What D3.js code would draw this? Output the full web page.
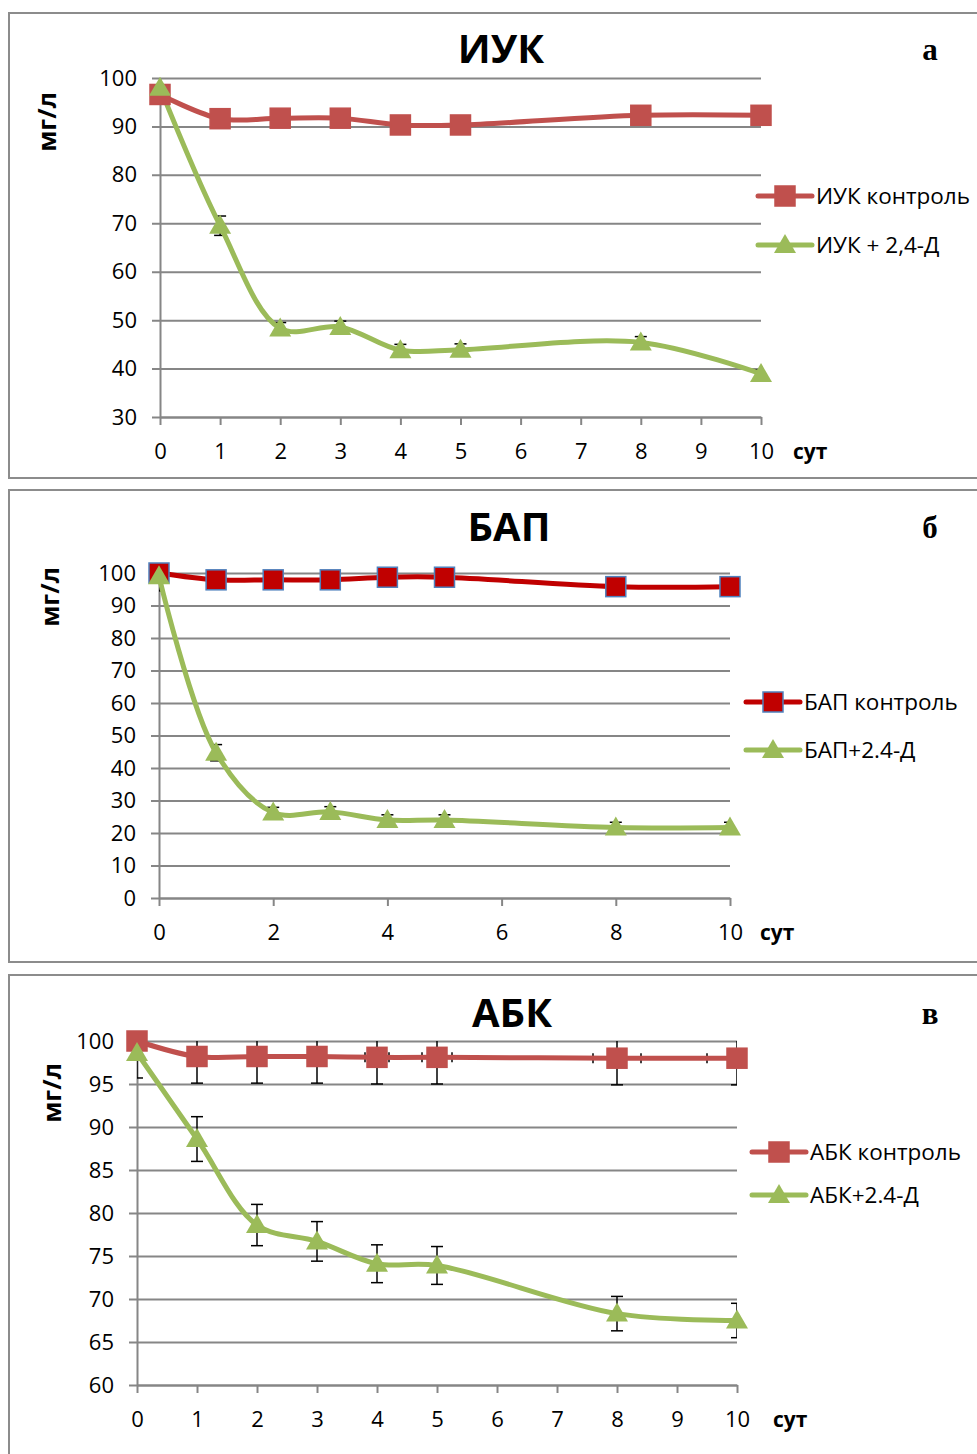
<!DOCTYPE html>
<html>
<head>
<meta charset="utf-8">
<script src="https://cdn.jsdelivr.net/npm/d3@7"></script>
<style>
  body { margin: 0; background: #fff; }
  svg { display: block; }
</style>
</head>
<body>
<svg id="chart"></svg>
<script>
// days
const days = [0, 1, 2, 3, 4, 5, 8, 10];

// ИУК
const iukControl = [96.6, 91.6, 91.7, 91.7, 90.3, 90.3, 92.3, 92.3];
const iukTreated = [98, 69.5, 48.3, 48.6, 43.8, 43.9, 45.4, 38.9];
const iukTreatedErr = [0, 2, 1.2, 1.2, 1.2, 1.2, 1.2, 0.8];

// БАП
const bapControl = [100, 97.9, 97.9, 97.9, 98.7, 98.7, 95.8, 95.8];
const bapTreated = [99, 44.7, 26.3, 26.5, 24, 24, 21.7, 21.7];
const bapTreatedErr = [4.5, 2.5, 1.6, 1.6, 1.6, 1.6, 1.6, 1.6];

// АБК
const abkControl = [100, 98.2, 98.2, 98.2, 98.1, 98.1, 98, 98];
const abkControlErr = [0, 3.1, 3.1, 3.1, 3.1, 3.1, 3.1, 3.1];
const abkControlErrX = days.map(d => d * 0.05); // 5% horizontal bars
const abkTreated = [98.6, 88.6, 78.6, 76.7, 74.1, 73.9, 68.3, 67.5];
const abkTreatedErr = [2.9, 2.6, 2.4, 2.3, 2.2, 2.2, 2, 2];

const W = 977, H = 1454;
const svg = d3.select("#chart").attr("width", W).attr("height", H);

const green = "#9BBB59";
const font = "'Open Sans', 'DejaVu Sans', sans-serif";

const panels = [
  {
    title: "ИУК", letter: "а", top: 13, bottom: 478,
    left: 160, right: 761, yTop: 78, yBottom: 417,
    yDomain: [30, 100], yStep: 10, xTicks: d3.range(0, 11, 1),
    titleX: 501, titleY: 63, letterY: 60, ylabY: 122, ylabX: 47,
    sutX: 793,
    legX: 758, legY: [196, 245],
    series: [
      { name: "ИУК контроль", values: iukControl, color: "#C0504D", marker: "square", fill: "#C0504D", stroke: "#C0504D" },
      { name: "ИУК + 2,4-Д", values: iukTreated, err: iukTreatedErr, color: green, marker: "triangle" }
    ]
  },
  {
    title: "БАП", letter: "б", top: 490, bottom: 962,
    left: 159, right: 730, yTop: 573, yBottom: 898,
    yDomain: [0, 100], yStep: 10, xTicks: d3.range(0, 11, 2),
    titleX: 509, titleY: 541, letterY: 538, ylabY: 597, ylabX: 50,
    sutX: 760,
    legX: 746, legY: [702, 750],
    series: [
      { name: "БАП контроль", values: bapControl, color: "#C00000", marker: "square", fill: "#C00000", stroke: "#4F81BD" },
      { name: "БАП+2.4-Д", values: bapTreated, err: bapTreatedErr, color: green, marker: "triangle" }
    ]
  },
  {
    title: "АБК", letter: "в", top: 975, bottom: 1470,
    left: 137, right: 737, yTop: 1041, yBottom: 1385,
    yDomain: [60, 100], yStep: 5, xTicks: d3.range(0, 11, 1),
    titleX: 512, titleY: 1027, letterY: 1024, ylabY: 1093, ylabX: 52,
    sutX: 773,
    legX: 752, legY: [1152, 1195],
    series: [
      { name: "АБК контроль", values: abkControl, err: abkControlErr, errX: abkControlErrX, color: "#C0504D", marker: "square", fill: "#C0504D", stroke: "#C0504D" },
      { name: "АБК+2.4-Д", values: abkTreated, err: abkTreatedErr, color: green, marker: "triangle" }
    ]
  }
];

function drawMarker(g, type, cx, cy, s) {
  if (type === "square") {
    g.append("rect")
      .attr("x", cx - 10).attr("y", cy - 10)
      .attr("width", 20).attr("height", 20)
      .attr("fill", s.fill).attr("stroke", s.stroke).attr("stroke-width", 1.5);
  } else {
    g.append("path")
      .attr("d", `M${cx},${cy - 11}L${cx + 11},${cy + 8}L${cx - 11},${cy + 8}Z`)
      .attr("fill", s.color);
  }
}

panels.forEach((p, pi) => {
  const g = svg.append("g");

  // frame
  g.append("rect")
    .attr("x", 9).attr("y", p.top)
    .attr("width", W + 20).attr("height", p.bottom - p.top)
    .attr("fill", "none").attr("stroke", "#8c8c8c").attr("stroke-width", 2);

  const x = d3.scaleLinear().domain([0, 10]).range([p.left, p.right]);
  const y = d3.scaleLinear().domain(p.yDomain).range([p.yBottom, p.yTop]);
  const plotW = p.right - p.left;

  // y axis with gridlines
  const yAxis = d3.axisLeft(y)
    .tickValues(d3.range(p.yDomain[0], p.yDomain[1] + 0.1, p.yStep))
    .tickSizeInner(-plotW).tickSizeOuter(0).tickPadding(23)
    .tickFormat(d3.format("d"));
  const ya = g.append("g").attr("transform", `translate(${p.left},0)`).call(yAxis);
  ya.select(".domain").attr("stroke", "#868686").attr("stroke-width", 2);
  ya.selectAll(".tick line").attr("x1", -8).attr("x2", plotW)
    .attr("stroke", "#868686").attr("stroke-width", 2);
  ya.selectAll(".tick text").attr("font-family", font).attr("font-size", 22).attr("fill", "#000");

  // x axis
  const xAxis = d3.axisBottom(x).tickValues(p.xTicks)
    .tickSizeInner(8).tickSizeOuter(0).tickPadding(18)
    .tickFormat(d3.format("d"));
  const xa = g.append("g").attr("transform", `translate(0,${p.yBottom})`).call(xAxis);
  xa.select(".domain").attr("stroke", "#868686").attr("stroke-width", 2);
  xa.selectAll(".tick line").attr("stroke", "#868686").attr("stroke-width", 2);
  xa.selectAll(".tick text").attr("font-family", font).attr("font-size", 22).attr("fill", "#000");

  // clip for error bars
  const clipId = "clip" + pi;
  svg.append("clipPath").attr("id", clipId).append("rect")
    .attr("x", p.left).attr("y", p.yTop)
    .attr("width", plotW).attr("height", p.yBottom - p.yTop);

  const eg = g.append("g").attr("clip-path", `url(#${clipId})`);
  p.series.forEach(s => {
    if (!s.err) return;
    days.forEach((d, i) => {
      const e = s.err[i];
      if (!e) return;
      const cx = x(d), y1 = y(s.values[i] + e), y2 = y(s.values[i] - e);
      eg.append("line").attr("x1", cx).attr("x2", cx).attr("y1", y1).attr("y2", y2)
        .attr("stroke", "#000").attr("stroke-width", 1.5);
      [y1, y2].forEach(yy => eg.append("line")
        .attr("x1", cx - 6).attr("x2", cx + 6).attr("y1", yy).attr("y2", yy)
        .attr("stroke", "#000").attr("stroke-width", 1.5));
    });
    if (s.errX) {
      days.forEach((d, i) => {
        const ex = s.errX[i];
        if (!ex) return;
        const cy = y(s.values[i]);
        [x(d - ex), x(d + ex)].forEach(xx => eg.append("line")
          .attr("x1", xx).attr("x2", xx).attr("y1", cy - 5).attr("y2", cy + 5)
          .attr("stroke", "#000").attr("stroke-width", 1.5));
      });
    }
  });

  // lines
  const line = d3.line()
    .x((d, i) => x(days[i]))
    .y(d => y(d))
    .curve(d3.curveCatmullRom.alpha(0.5));
  p.series.forEach(s => {
    g.append("path").attr("d", line(s.values))
      .attr("fill", "none").attr("stroke", s.color)
      .attr("stroke-width", 5).attr("stroke-linejoin", "round").attr("stroke-linecap", "round");
  });

  // markers
  p.series.forEach(s => {
    s.values.forEach((v, i) => drawMarker(g, s.marker, x(days[i]), y(v), s));
  });

  // titles
  g.append("text").attr("x", p.titleX).attr("y", p.titleY)
    .attr("text-anchor", "middle").attr("font-family", font).attr("font-weight", 700)
    .attr("font-size", 40).text(p.title);
  g.append("text").attr("x", 930).attr("y", p.letterY)
    .attr("text-anchor", "middle").attr("font-family", "'Liberation Serif', serif")
    .attr("font-weight", 700).attr("font-size", 31).text(p.letter);

  // axis titles
  g.append("text")
    .attr("transform", `translate(${p.ylabX},${p.ylabY}) rotate(-90)`)
    .attr("text-anchor", "middle").attr("dy", "0.35em")
    .attr("font-family", font).attr("font-weight", 700).attr("font-size", 25).text("мг/л");
  g.append("text").attr("x", p.sutX).attr("y", p.yBottom + 35).attr("dy", "0.35em")
    .attr("font-family", font).attr("font-weight", 700).attr("font-size", 21).text("сут");

  // legend
  p.series.forEach((s, i) => {
    const ly = p.legY[i];
    g.append("line").attr("x1", p.legX).attr("x2", p.legX + 54).attr("y1", ly).attr("y2", ly)
      .attr("stroke", s.color).attr("stroke-width", 5).attr("stroke-linecap", "round");
    drawMarker(g, s.marker, p.legX + 27, ly, s);
    g.append("text").attr("x", p.legX + 58).attr("y", ly).attr("dy", "0.35em")
      .attr("font-family", font).attr("font-size", 22.5).text(s.name);
  });
});
</script>
</body>
</html>
